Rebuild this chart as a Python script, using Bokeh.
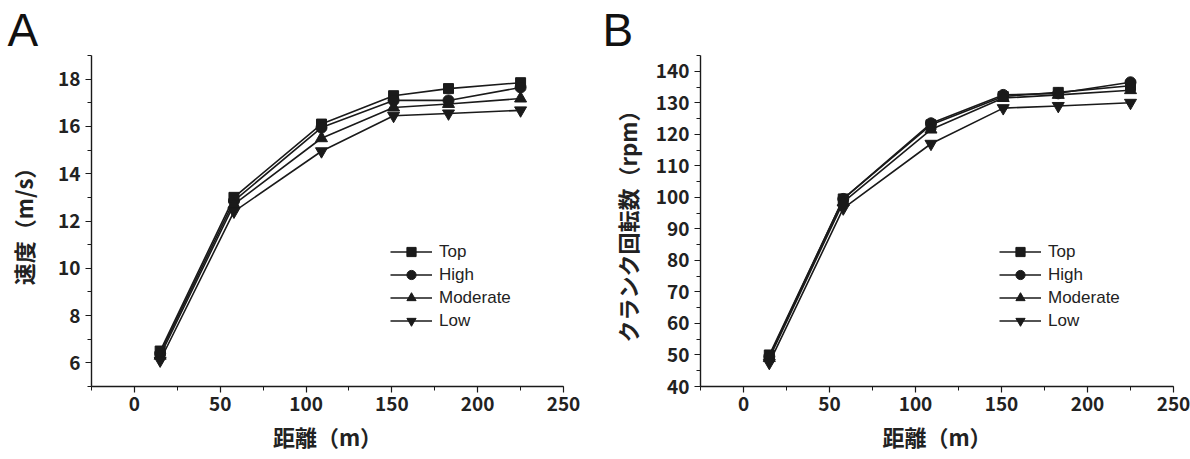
from bokeh.plotting import figure
from bokeh.layouts import row
from bokeh.models import (SingleIntervalTicker, Legend, LegendItem, Range1d, Title)
from bokeh.embed import file_html
from bokeh.resources import INLINE

distance = [15, 58, 109, 151, 183, 225]
series_names = ["Top", "High", "Moderate", "Low"]

speed_top = [6.5, 13.0, 16.1, 17.3, 17.6, 17.85]
speed_high = [6.4, 12.85, 15.95, 17.1, 17.1, 17.65]
speed_moderate = [6.3, 12.7, 15.5, 16.8, 16.95, 17.18]
speed_low = [6.1, 12.4, 14.95, 16.45, 16.55, 16.68]

cadence_top = [50, 99.5, 123, 132, 133.3, 135.4]
cadence_high = [49.5, 99.5, 123.5, 132.5, 133, 136.5]
cadence_moderate = [49, 98.5, 121.5, 131.5, 132.5, 134]
cadence_low = [47.5, 96.5, 117, 128.3, 129, 130]

markers = ["square", "circle", "triangle", "inverted_triangle"]
msizes = [10, 11, 12, 12]

JP = "Noto Sans CJK JP"
INK = "#1a1a1a"


def make_panel(letter, ylabel, series, yrange, yint, left, right, ylab_standoff):
    p = figure(width=595, height=459, output_backend="svg", toolbar_location=None,
               x_range=Range1d(-25, 250), y_range=Range1d(*yrange),
               min_border_left=left, min_border_right=right,
               min_border_top=55, min_border_bottom=73)
    p.outline_line_color = None
    p.xgrid.grid_line_color = None
    p.ygrid.grid_line_color = None
    p.background_fill_color = "white"
    p.border_fill_color = "white"

    items = []
    for name, ys, mk, ms in zip(series_names, series, markers, msizes):
        ln = p.line(distance, ys, line_color=INK, line_width=1.6)
        sc = p.scatter(distance, ys, marker=mk, size=ms, fill_color=INK, line_color=INK)
        items.append(LegendItem(label=name, renderers=[ln, sc]))

    leg = Legend(items=items, location=(299, 54), orientation="vertical",
                 glyph_width=42, glyph_height=23, label_height=23, spacing=0,
                 padding=0, margin=0, label_standoff=7,
                 label_text_font="Liberation Sans", label_text_font_size="17px",
                 label_text_color="#222",
                 border_line_color=None, background_fill_alpha=0)
    p.add_layout(leg, "center")

    p.xaxis.ticker = SingleIntervalTicker(interval=50, num_minor_ticks=2)
    p.yaxis.ticker = SingleIntervalTicker(interval=yint, num_minor_ticks=2)
    for ax in (p.xaxis[0], p.yaxis[0]):
        ax.axis_line_color = INK
        ax.axis_line_width = 1.4
        ax.major_tick_line_color = INK
        ax.minor_tick_line_color = INK
        ax.major_tick_line_width = 1.2
        ax.minor_tick_line_width = 1.0
        ax.major_tick_out = 6
        ax.major_tick_in = 0
        ax.minor_tick_out = 4
        ax.minor_tick_in = 0
        ax.major_label_text_font = JP
        ax.major_label_text_font_style = "bold"
        ax.major_label_text_font_size = "19px"
        ax.major_label_text_color = "#222"
        ax.axis_label_text_font = JP
        ax.axis_label_text_font_style = "bold"
        ax.axis_label_text_font_size = "22px"
        ax.axis_label_text_color = "#222"
    p.xaxis.axis_label = "距離（m）"
    p.yaxis.axis_label = ylabel
    p.xaxis.major_label_standoff = 4
    p.yaxis.major_label_standoff = 5
    p.xaxis.axis_label_standoff = 6
    p.yaxis.axis_label_standoff = ylab_standoff

    t = Title(text=letter, align="left", offset=-(left - 7), standoff=0,
              text_font="Liberation Sans", text_font_size="46px",
              text_font_style="normal", text_color="#111")
    p.add_layout(t, "above")
    return p


pa = make_panel("A", "速度（m/s）",
                [speed_top, speed_high, speed_moderate, speed_low], (5, 19), 2, 91, 32, 16)
pb = make_panel("B", "クランク回転数（rpm）",
                [cadence_top, cadence_high, cadence_moderate, cadence_low], (40, 145), 10, 105, 17, 10)

layout = row(pa, pb)
open("out.html", "w").write(file_html(layout, INLINE))
